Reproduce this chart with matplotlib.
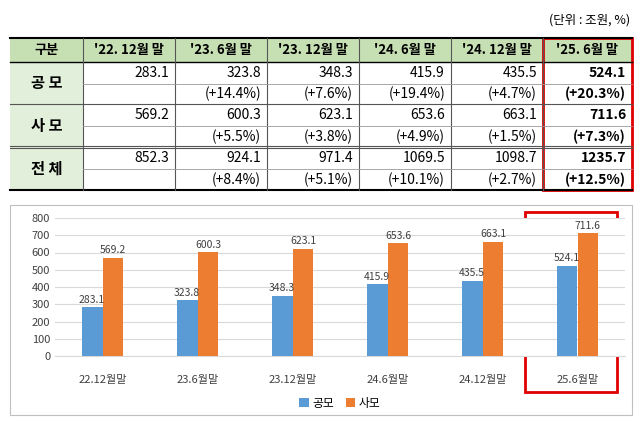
import matplotlib.pyplot as plt
from matplotlib import font_manager
from matplotlib.patches import Rectangle

# pick whatever CJK family is really installed
cjk = [f.name for f in font_manager.fontManager.ttflist if 'CJK' in f.name]
kr = [n for n in cjk if 'KR' in n] or cjk
plt.rcParams['font.family'] = (kr[:1] if kr else []) + ['DejaVu Sans']

headers = ['구분', "'22. 12월 말", "'23. 6월 말", "'23. 12월 말", "'24. 6월 말", "'24. 12월 말", "'25. 6월 말"]
row_names = ['공 모', '사 모', '전 체']
public = [283.1, 323.8, 348.3, 415.9, 435.5, 524.1]
private = [569.2, 600.3, 623.1, 653.6, 663.1, 711.6]
total = [852.3, 924.1, 971.4, 1069.5, 1098.7, 1235.7]
public_g = [None, '+14.4%', '+7.6%', '+19.4%', '+4.7%', '+20.3%']
private_g = [None, '+5.5%', '+3.8%', '+4.9%', '+1.5%', '+7.3%']
total_g = [None, '+8.4%', '+5.1%', '+10.1%', '+2.7%', '+12.5%']
periods = ['22.12월말', '23.6월말', '23.12월말', '24.6월말', '24.12월말', '25.6월말']

W, H = 640, 421
fig = plt.figure(figsize=(6.4, 4.21), dpi=100)
ax = fig.add_axes([0, 0, 1, 1])
ax.set_xlim(0, W)
ax.set_ylim(H, 0)
ax.axis('off')

ax.text(630, 20, '(단위 : 조원, %)', ha='right', va='center', fontsize=9)

xs = [10, 83, 175, 267, 359, 451, 543, 632]
row_y = [38, 62, 104, 147, 190]
header_c = '#c6e0b4'
left_c = '#e2efda'
ax.add_patch(Rectangle((xs[0], 38), xs[-1] - xs[0], 24, fc=header_c, ec='none'))
ax.add_patch(Rectangle((xs[0], 62), xs[1] - xs[0], 128, fc=left_c, ec='none'))
for i, h in enumerate(headers):
    ax.text((xs[i] + xs[i + 1]) / 2, 50, h, ha='center', va='center', fontsize=9.5, fontweight='bold')

# grid lines
ax.plot([xs[0], xs[-1]], [38, 38], color='black', lw=1.5)
ax.plot([xs[0], xs[-1]], [190, 190], color='black', lw=1.5)
ax.plot([xs[0], xs[-1]], [62, 62], color='black', lw=1.0)
ax.plot([xs[0], xs[-1]], [104, 104], color='#555555', lw=0.8)
ax.plot([xs[0], xs[-1]], [145.5, 145.5], color='#555555', lw=0.8)
ax.plot([xs[0], xs[-1]], [148, 148], color='#555555', lw=0.8)
for x in xs[1:-1]:
    ax.plot([x, x], [38, 190], color='#555555', lw=0.8)
for y in [84, 126, 169]:
    ax.plot([xs[1], xs[-1]], [y, y], color='#999999', lw=0.6)

for r, (vals, gs) in enumerate([(public, public_g), (private, private_g), (total, total_g)]):
    top = row_y[r + 1] if r < 2 else 148
    bot = row_y[r + 2]
    mid = [84, 126, 169][r]
    ax.text((xs[0] + xs[1]) / 2, (top + bot) / 2, row_names[r], ha='center', va='center',
            fontsize=11, fontweight='bold')
    for i, v in enumerate(vals):
        bold = 'bold' if i == 5 else 'normal'
        ax.text(xs[i + 2] - 6, (top + mid) / 2, f'{v:.1f}', ha='right', va='center', fontsize=10, fontweight=bold)
        if gs[i]:
            ax.text(xs[i + 2] - 6, (mid + bot) / 2, f'({gs[i]})', ha='right', va='center', fontsize=10, fontweight=bold)

ax.add_patch(Rectangle((xs[6], 38), xs[7] - xs[6], 152, fc='none', ec='#e00000', lw=2))

# chart frame
ax.add_patch(Rectangle((10, 205), 622, 210, fc='none', ec='#bfbfbf', lw=0.8))
ax.add_patch(Rectangle((525, 212), 92, 180, fc='none', ec='#e00000', lw=2, zorder=5))

cax = fig.add_axes([55 / W, 1 - 356 / H, 570 / W, 138 / H])
n = len(periods)
bw = 0.22
pos = list(range(n))
cax.bar([p - bw / 2 for p in pos], public, bw, color='#5b9bd5', label='공모', zorder=3)
cax.bar([p + bw / 2 for p in pos], private, bw, color='#ed7d31', label='사모', zorder=3)
for p, v in zip(pos, public):
    cax.text(p - bw / 2, v + 15, f'{v:.1f}', ha='center', va='bottom', fontsize=7.5, color='#404040')
for p, v in zip(pos, private):
    cax.text(p + bw / 2, v + 15, f'{v:.1f}', ha='center', va='bottom', fontsize=7.5, color='#404040')
cax.set_ylim(0, 800)
cax.set_yticks(range(0, 801, 100))
cax.set_xlim(-0.5, n - 0.5)
cax.set_xticks(pos)
cax.set_xticklabels(periods, fontsize=8, color='#404040')
cax.tick_params(axis='y', labelsize=8, colors='#404040', length=0)
cax.tick_params(axis='x', length=0, pad=14)
cax.grid(axis='y', color='#d9d9d9', lw=0.8, zorder=0)
for s in ['top', 'right', 'left']:
    cax.spines[s].set_visible(False)
cax.spines['bottom'].set_color('#d9d9d9')
cax.legend(loc='upper center', bbox_to_anchor=(0.5, -0.22), ncol=2, frameon=False, fontsize=8.5,
           handlelength=0.8, handleheight=0.8, columnspacing=1.0, handletextpad=0.3)

fig.savefig('out.png', dpi=100)
